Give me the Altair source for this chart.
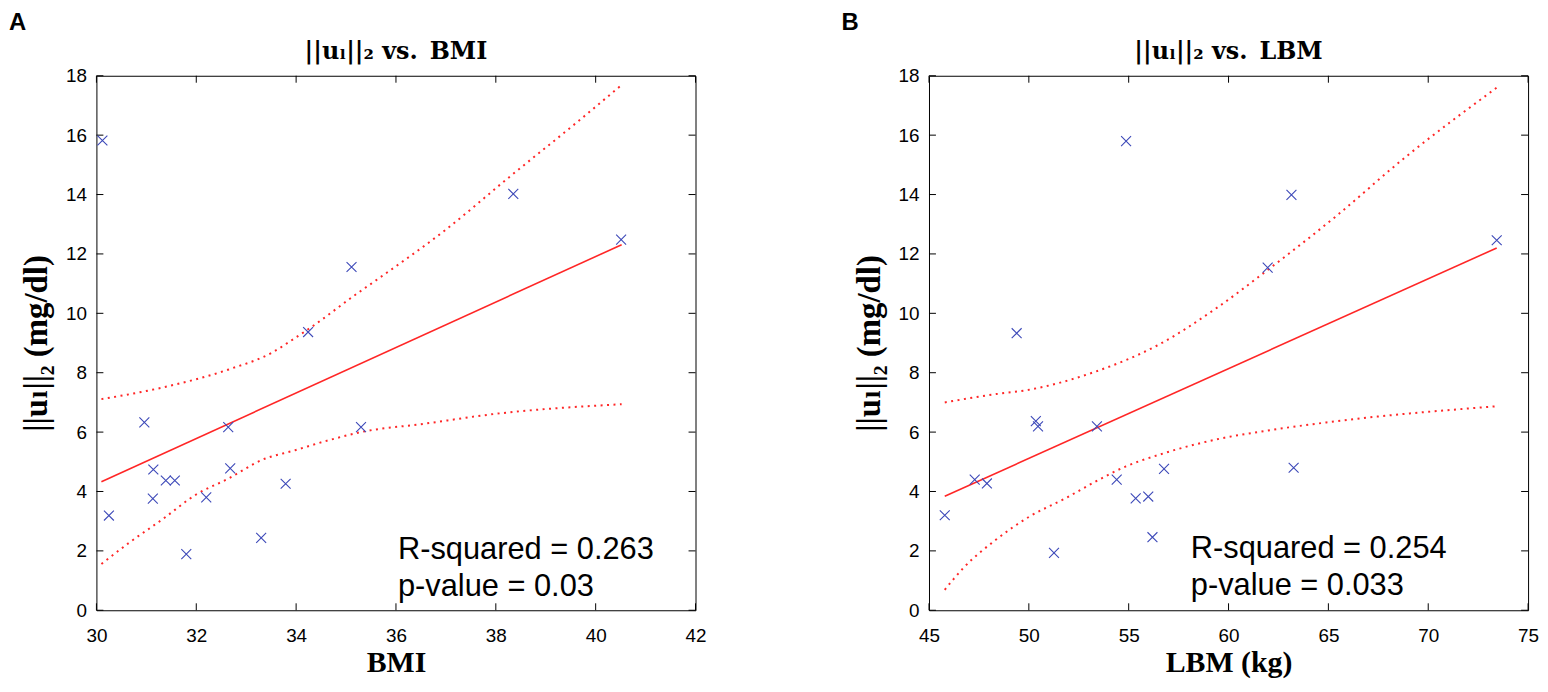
import altair as alt
import pandas as pd

# ---------------- Panel A : ||u_l||_2 vs. BMI ----------------
bmi = [30.12, 38.35, 40.51, 35.11, 34.24, 30.96, 32.64, 35.30, 31.14,
       32.68, 31.39, 31.57, 33.79, 31.13, 32.20, 30.25, 33.30, 31.80]
ul_a = [15.82, 14.02, 12.48, 11.56, 9.37, 6.33, 6.17, 6.17, 4.74,
        4.78, 4.37, 4.37, 4.26, 3.76, 3.80, 3.19, 2.44, 1.89]
fit_a_x = [30.10, 40.52]
fit_a_y = [4.33, 12.31]
up_a_x = [30.10, 31.32, 32.65, 33.51, 33.98, 34.30, 35.20, 35.65, 36.97, 38.30, 39.63, 40.52]
up_a_y = [7.11, 7.50, 8.11, 8.67, 9.17, 9.53, 10.64, 11.17, 12.78, 14.63, 16.44, 17.69]
lo_a_x = [30.10, 30.66, 31.32, 31.99, 32.65, 33.31, 33.98, 34.64, 35.30, 36.56, 37.97, 40.52]
lo_a_y = [1.56, 2.28, 3.06, 3.89, 4.44, 5.06, 5.39, 5.72, 6.00, 6.28, 6.61, 6.94]
x_ticks_a = [30, 32, 34, 36, 38, 40, 42]
notes_a = ["R-squared = 0.263", "p-value = 0.03"]
note_a_x = [36.04, 36.04]
note_a_y = [1.73, 0.48]

# ---------------- Panel B : ||u_l||_2 vs. LBM ----------------
lbm = [54.87, 63.15, 73.43, 61.96, 49.39, 50.35, 50.46, 53.41, 47.29,
       47.90, 54.40, 56.77, 63.26, 55.35, 55.98, 45.79, 56.19, 51.26]
ul_b = [15.80, 13.99, 12.46, 11.54, 9.33, 6.37, 6.19, 6.19, 4.40,
        4.27, 4.40, 4.76, 4.80, 3.77, 3.83, 3.20, 2.46, 1.93]
fit_b_x = [45.79, 73.43]
fit_b_y = [3.84, 12.20]
up_b_x = [45.79, 48.36, 49.87, 53.18, 56.49, 59.47, 61.96, 65.44, 68.75, 73.43]
up_b_y = [7.00, 7.28, 7.41, 8.00, 8.94, 10.21, 11.46, 13.30, 15.20, 17.60]
lo_b_x = [45.79, 46.70, 48.36, 50.02, 51.86, 53.33, 54.84, 56.49, 58.30, 59.80, 61.45, 65.44, 73.43]
lo_b_y = [0.69, 1.41, 2.38, 3.15, 3.78, 4.33, 4.84, 5.23, 5.58, 5.81, 6.00, 6.37, 6.87]
x_ticks_b = [45, 50, 55, 60, 65, 70, 75]
notes_b = ["R-squared = 0.254", "p-value = 0.033"]
note_b_x = [58.11, 58.11]
note_b_y = [1.76, 0.53]

# ---------------- shared ----------------
y_ticks = [0, 2, 4, 6, 8, 10, 12, 14, 16, 18]
y_title = "||u\u2097||\u2082 (mg/dl)"
title_a = "||u\u2097||\u2082 vs.\u2002BMI"
title_b = "||u\u2097||\u2082 vs.\u2002LBM"

W, H = 603, 538
SANS = "Liberation Sans, Arial, Helvetica, sans-serif"
SERIF = "Liberation Serif, Times New Roman, DejaVu Serif, serif"
TSERIF = "DejaVu Serif, Liberation Serif, serif"
RED = "#ff2626"
BLUE = "#3c48b8"
XSHAPE = "M-1,-1L1,1M-1,1L1,-1"
TICK = 7


def make_panel(px, py, fx, fy, ux, uy, lx, ly, xdom, xticks, xtitle, title,
               notes, nx, ny, letter):
    xs = alt.Scale(domain=xdom, nice=False, zero=False)
    ys = alt.Scale(domain=[0, 18], nice=False, zero=False)
    xaxis = alt.Axis(values=xticks, title=xtitle, grid=False, domain=False,
                     ticks=False, tickSize=0, labelFont=SANS, labelFontSize=19,
                     labelColor="black", labelPadding=16, labelFlush=False,
                     labelOverlap=False, titleFont=SERIF, titleFontSize=30,
                     titleFontWeight="bold", titleColor="black",
                     titleBaseline="alphabetic", titleY=62)
    yaxis = alt.Axis(values=y_ticks, title=y_title, grid=False, domain=False,
                     ticks=False, tickSize=0, labelFont=SANS, labelFontSize=19,
                     labelColor="black", labelPadding=10, labelOverlap=False,
                     titleFont=SERIF, titleFontSize=33, titleFontWeight="bold",
                     titleColor="black", titleBaseline="alphabetic",
                     titleX=-50, titleY=H / 2, titleAngle=270)

    def X():
        return alt.X("x:Q", scale=xs, axis=xaxis)

    def Y():
        return alt.Y("y:Q", scale=ys, axis=yaxis)

    pts = pd.DataFrame({"x": px, "y": py})
    fit = pd.DataFrame({"x": fx, "y": fy})
    up = pd.DataFrame({"x": ux, "y": uy})
    lo = pd.DataFrame({"x": lx, "y": ly})
    xt = pd.DataFrame({"x": xticks})
    yt = pd.DataFrame({"y": y_ticks})
    nt = pd.DataFrame({"x": nx, "y": ny, "t": notes})
    lab = pd.DataFrame({"t": [letter], "h": [title]})

    layers = [
        alt.Chart(xt).mark_rule(color="black", strokeWidth=1).encode(
            x=X(), y=alt.value(H), y2=alt.value(H - TICK)),
        alt.Chart(xt).mark_rule(color="black", strokeWidth=1).encode(
            x=X(), y=alt.value(0), y2=alt.value(TICK)),
        alt.Chart(yt).mark_rule(color="black", strokeWidth=1).encode(
            y=Y(), x=alt.value(0), x2=alt.value(TICK)),
        alt.Chart(yt).mark_rule(color="black", strokeWidth=1).encode(
            y=Y(), x=alt.value(W), x2=alt.value(W - TICK)),
        alt.Chart(up).mark_line(color=RED, strokeWidth=2, strokeDash=[2, 4.5],
                                interpolate="monotone").encode(x=X(), y=Y()),
        alt.Chart(lo).mark_line(color=RED, strokeWidth=2, strokeDash=[2, 4.5],
                                interpolate="monotone").encode(x=X(), y=Y()),
        alt.Chart(fit).mark_line(color=RED, strokeWidth=1.6).encode(x=X(), y=Y()),
        alt.Chart(pts).mark_point(shape=XSHAPE, size=100, filled=False, strokeWidth=1.1,
                                  color=BLUE, opacity=1).encode(x=X(), y=Y()),
        alt.Chart(nt).mark_text(align="left", baseline="alphabetic", font=SANS,
                                fontSize=31, color="black").encode(x=X(), y=Y(), text="t:N"),
        alt.Chart(lab).mark_text(align="center", baseline="alphabetic", font=TSERIF,
                                 fontSize=24, fontWeight="bold", color="black").encode(
            x=alt.value(W / 2), y=alt.value(-17), text="h:N"),
        alt.Chart(lab).mark_text(align="left", baseline="alphabetic", font=SANS,
                                 fontSize=24, fontWeight="bold", color="black").encode(
            x=alt.value(-88), y=alt.value(-46), text="t:N"),
    ]
    return alt.layer(*layers).properties(width=W, height=H)


panel_a = make_panel(bmi, ul_a, fit_a_x, fit_a_y, up_a_x, up_a_y, lo_a_x, lo_a_y,
                     [30, 42], x_ticks_a, "BMI", title_a, notes_a, note_a_x, note_a_y, "A")
panel_b = make_panel(lbm, ul_b, fit_b_x, fit_b_y, up_b_x, up_b_y, lo_b_x, lo_b_y,
                     [45, 75], x_ticks_b, "LBM (kg)", title_b, notes_b, note_b_x, note_b_y, "B")

chart = alt.hconcat(panel_a, panel_b, spacing=134).configure_view(
    stroke="black", strokeWidth=1, fill="white"
).properties(padding=0, background="white")

chart.save("out.html", embed_options={"renderer": "svg", "actions": False})
